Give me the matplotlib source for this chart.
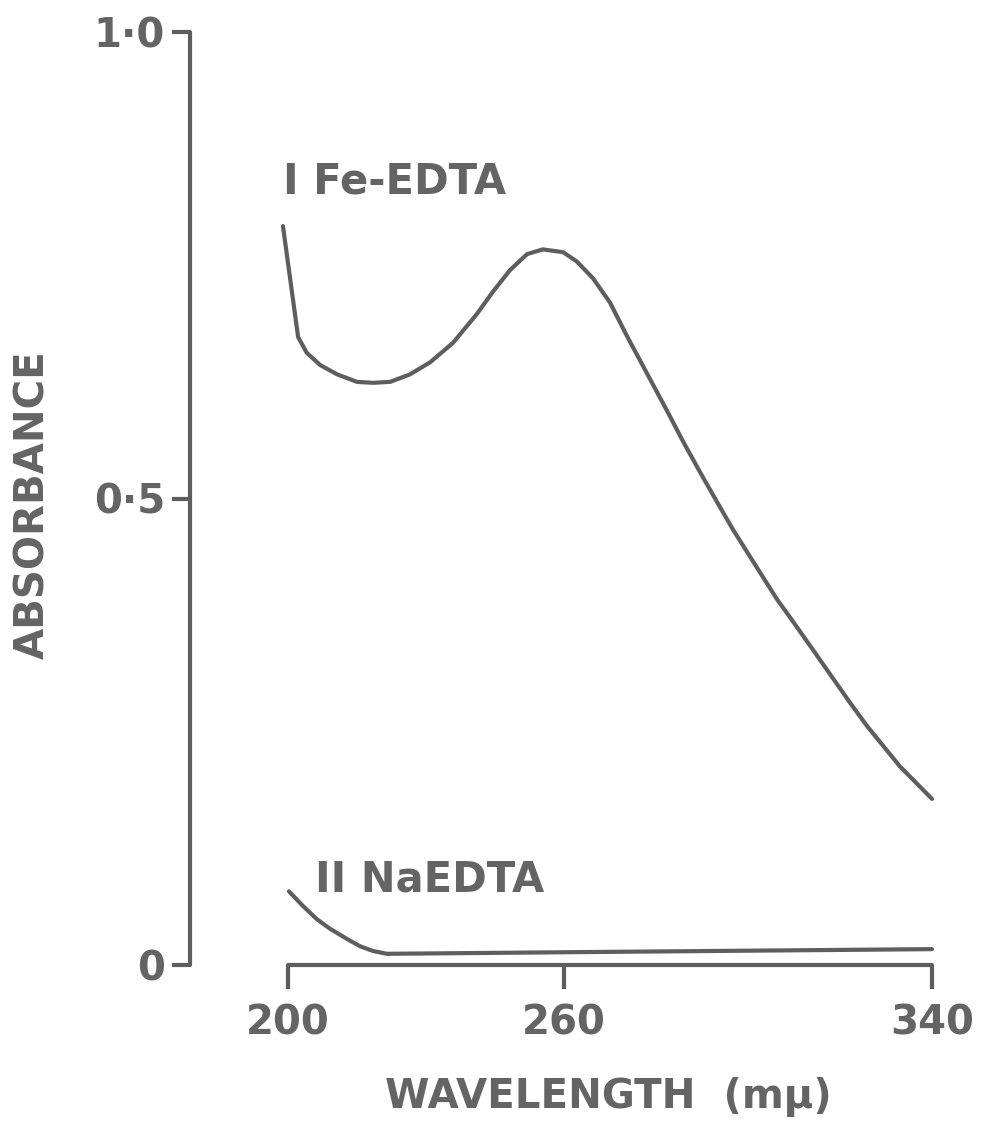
import matplotlib
matplotlib.use("Agg")
import matplotlib.pyplot as plt

# ---- data ----
fe_wavelength = [198.9, 202.2, 204.1, 207.0, 210.7, 215.0, 218.5, 222.2, 226.5, 230.9,
                 235.9, 241.1, 244.6, 248.3, 252.0, 255.4, 259.8, 262.8, 266.3, 270.0,
                 273.7, 278.7, 282.4, 285.9, 289.6, 293.3, 296.7, 300.4, 306.3, 309.8,
                 314.1, 318.5, 322.2, 325.9, 333.0, 340.0]
fe_absorbance = [0.792, 0.673, 0.656, 0.643, 0.633, 0.625, 0.624, 0.625, 0.633, 0.646,
                 0.667, 0.698, 0.722, 0.745, 0.762, 0.767, 0.764, 0.754, 0.736, 0.710,
                 0.674, 0.628, 0.594, 0.561, 0.528, 0.496, 0.467, 0.438, 0.392, 0.368,
                 0.338, 0.307, 0.281, 0.256, 0.213, 0.178]

na_wavelength = [200.2, 203.3, 206.3, 209.1, 212.8, 215.7, 218.5, 221.5, 267.8, 340.0]
na_absorbance = [0.079, 0.063, 0.049, 0.039, 0.028, 0.020, 0.015, 0.012, 0.014, 0.017]

x_ticks = [200, 260, 340]
x_tick_labels = ["200", "260", "340"]
y_ticks = [0, 0.5, 1.0]
y_tick_labels = ["0", "0·5", "1·0"]

label_fe = "I Fe-EDTA"
label_na = "II NaEDTA"
x_title = "WAVELENGTH  (mμ)"
y_title = "ABSORBANCE"

# ---- styling ----
INK = "#5e5e5e"
TXT = "#646464"
W, H = 983, 1124
fig = plt.figure(figsize=(W / 100, H / 100), dpi=100)
ax = fig.add_axes([288 / W, (H - 965) / H, 644 / W, (965 - 32) / H])

ax.plot(fe_wavelength, fe_absorbance, color=INK, lw=3.0, clip_on=False,
        solid_capstyle="round", solid_joinstyle="round")
ax.plot(na_wavelength, na_absorbance, color=INK, lw=3.0, clip_on=False,
        solid_capstyle="round", solid_joinstyle="round")

ax.set_xlim(200, 340)
ax.set_ylim(0, 1.0)

for s in ("top", "right"):
    ax.spines[s].set_visible(False)
ax.spines["left"].set_position(("axes", -98 / 644))
ax.spines["left"].set_bounds(0, 1.0)
ax.spines["bottom"].set_bounds(200, 340)
for s in ("left", "bottom"):
    ax.spines[s].set_color(INK)
    ax.spines[s].set_linewidth(3.0)
    ax.spines[s].set_capstyle("round")

ax.set_xticks(x_ticks, x_tick_labels)
ax.set_yticks(y_ticks, y_tick_labels)
ax.tick_params(axis="y", direction="out", length=13, width=3.0, color=INK,
               pad=5, labelsize=29, labelcolor=TXT)
ax.tick_params(axis="x", direction="out", length=17, width=3.0, color=INK,
               pad=11, labelsize=29, labelcolor=TXT)
for lab in ax.get_xticklabels() + ax.get_yticklabels():
    lab.set_fontweight("bold")

ax.text(198.9, 0.827, label_fe, fontsize=30, fontweight="bold", color=TXT,
        ha="left", va="baseline", clip_on=False)
ax.text(205.9, 0.079, label_na, fontsize=30, fontweight="bold", color=TXT,
        ha="left", va="baseline", clip_on=False)

fig.text(608 / W, 1 - 1097 / H, x_title, fontsize=29, fontweight="bold",
         color=TXT, ha="center", va="center")
fig.text(33 / W, 1 - 505 / H, y_title, fontsize=29, fontweight="bold",
         color=TXT, ha="center", va="center", rotation=90)

fig.savefig("out.png", dpi=100, facecolor="white")
